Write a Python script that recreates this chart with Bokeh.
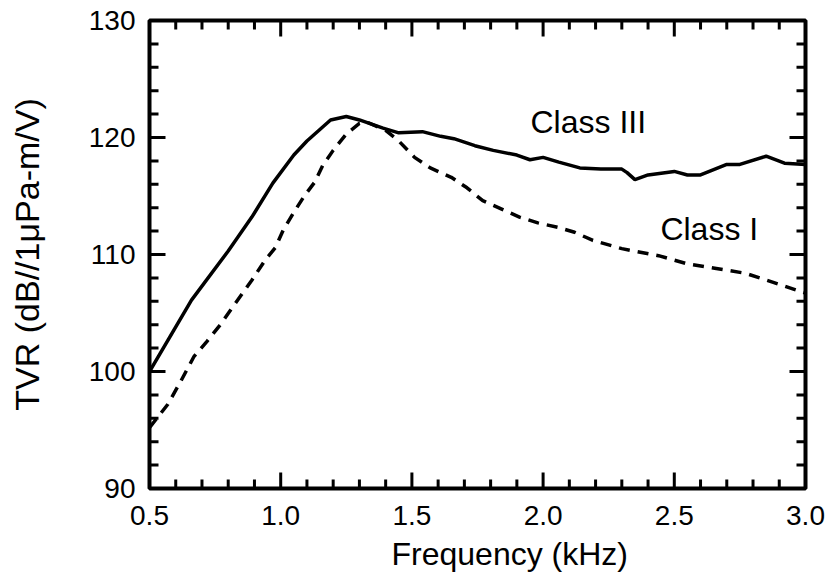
import numpy as np
from bokeh.plotting import figure
from bokeh.models import (LinearAxis, FixedTicker, PrintfTickFormatter,
                          Label, Range1d, Title)
from bokeh.embed import file_html
from bokeh.resources import INLINE

# Class III (solid)
freq_c3 = [0.5, 0.66, 0.8, 0.89, 0.97, 1.05, 1.1, 1.19, 1.25, 1.3, 1.39, 1.45,
           1.54, 1.61, 1.66, 1.74, 1.81, 1.9, 1.95, 2.0, 2.06, 2.14, 2.22, 2.3,
           2.32, 2.35, 2.4, 2.5, 2.55, 2.6, 2.7, 2.75, 2.85, 2.92, 3.0]
tvr_c3 = [100.0, 106.1, 110.3, 113.2, 116.1, 118.5, 119.7, 121.5, 121.8, 121.5,
          120.8, 120.4, 120.5, 120.1, 119.9, 119.3, 118.9, 118.5, 118.1, 118.3,
          117.9, 117.4, 117.3, 117.3, 117.0, 116.4, 116.8, 117.1, 116.8, 116.8,
          117.7, 117.7, 118.4, 117.8, 117.7]

# Class I (dashed)
freq_c1 = [0.5, 0.57, 0.62, 0.67, 0.72, 0.77, 0.82, 0.89, 0.94, 0.98, 1.01, 1.05,
           1.09, 1.13, 1.16, 1.2, 1.25, 1.3, 1.33, 1.4, 1.45, 1.51, 1.57, 1.65,
           1.71, 1.77, 1.84, 1.91, 1.98, 2.06, 2.12, 2.19, 2.3, 2.44, 2.55, 2.66,
           2.77, 2.88, 3.0]
tvr_c1 = [95.2, 97.2, 99.2, 101.3, 102.6, 104.0, 105.6, 107.8, 109.5, 110.6,
          112.1, 113.6, 115.0, 116.2, 117.6, 118.9, 120.3, 121.2, 121.3, 120.6,
          119.7, 118.3, 117.4, 116.6, 115.7, 114.6, 113.9, 113.2, 112.7, 112.3,
          111.9, 111.2, 110.5, 109.9, 109.2, 108.8, 108.4, 107.6, 106.7]

series_labels = ["Class III", "Class I"]
x_title = "Frequency (kHz)"
y_title = "TVR (dB//1\u03bcPa-m/V)"

x_major = [0.5, 1.0, 1.5, 2.0, 2.5, 3.0]
y_major = [90, 100, 110, 120, 130]

FONT = "Liberation Sans"

X0, X1 = 0.5, 3.0
Y0, Y1 = 90, 130
W, H = 830, 586
BL, BR, BT, BB = 149, 25, 20, 98
frame_w = W - BL - BR
frame_h = H - BT - BB

p = figure(width=W, height=H, output_backend="svg", toolbar_location=None,
           x_range=Range1d(X0, X1), y_range=Range1d(Y0, Y1),
           x_axis_type=None, y_axis_type=None,
           min_border_left=BL, min_border_right=BR, min_border_top=BT,
           min_border_bottom=BB)
p.outline_line_color = "black"
p.outline_line_width = 4
p.xgrid.visible = False
p.ygrid.visible = False
p.background_fill_color = "white"
p.border_fill_color = "white"


def style_axis(ax):
    ax.axis_line_color = None
    ax.major_tick_line_color = None
    ax.minor_tick_line_color = None
    ax.major_tick_in = 0
    ax.major_tick_out = 0
    ax.minor_tick_in = 0
    ax.minor_tick_out = 0
    ax.major_label_text_font = FONT
    ax.major_label_text_font_size = "28px"
    ax.major_label_text_color = "black"


xb = LinearAxis(ticker=FixedTicker(ticks=x_major),
                formatter=PrintfTickFormatter(format="%.1f"))
style_axis(xb)
xb.major_label_standoff = 17
p.add_layout(xb, "below")

yl = LinearAxis(ticker=FixedTicker(ticks=y_major))
style_axis(yl)
yl.major_label_standoff = 14
yl.axis_label = y_title
yl.axis_label_text_font = FONT
yl.axis_label_text_font_size = "34px"
yl.axis_label_text_font_style = "normal"
yl.axis_label_text_color = "black"
yl.axis_label_standoff = 40
p.add_layout(yl, "left")

# x title as a side title so it can be offset along the frame
p.add_layout(Title(text=x_title, align="left", offset=242, standoff=12,
                   text_font=FONT, text_font_size="32px",
                   text_font_style="normal", text_color="black"), "below")

# inward tick marks on all four sides (lengths in pixels -> data units)
px_x = (X1 - X0) / frame_w
px_y = (Y1 - Y0) / frame_h
MAJ, MIN = 16, 9
x_minor = [v for v in np.round(np.arange(X0, X1 + 1e-9, 0.1), 2)
           if v not in x_major]
y_minor = [v for v in np.arange(Y0, Y1 + 1e-9, 2.0) if v not in y_major]

for ticks, ln in ((x_major, MAJ), (x_minor, MIN)):
    n = len(ticks)
    p.segment(x0=ticks, x1=ticks, y0=[Y0] * n, y1=[Y0 + ln * px_y] * n,
              line_color="black", line_width=3)
    p.segment(x0=ticks, x1=ticks, y0=[Y1] * n, y1=[Y1 - ln * px_y] * n,
              line_color="black", line_width=3)
for ticks, ln in ((y_major, MAJ), (y_minor, MIN)):
    n = len(ticks)
    p.segment(y0=ticks, y1=ticks, x0=[X0] * n, x1=[X0 + ln * px_x] * n,
              line_color="black", line_width=3)
    p.segment(y0=ticks, y1=ticks, x0=[X1] * n, x1=[X1 - ln * px_x] * n,
              line_color="black", line_width=3)

p.line(freq_c3, tvr_c3, line_color="black", line_width=3.5)
p.line(freq_c1, tvr_c1, line_color="black", line_width=3.5, line_dash="11 8")

p.add_layout(Label(x=1.952, y=121.3, text=series_labels[0], text_font=FONT,
                   text_font_size="32px", text_baseline="middle",
                   text_align="left", text_color="black"))
p.add_layout(Label(x=2.447, y=112.2, text=series_labels[1], text_font=FONT,
                   text_font_size="32px", text_baseline="middle",
                   text_align="left", text_color="black"))

open("out.html", "w").write(file_html(p, INLINE))
